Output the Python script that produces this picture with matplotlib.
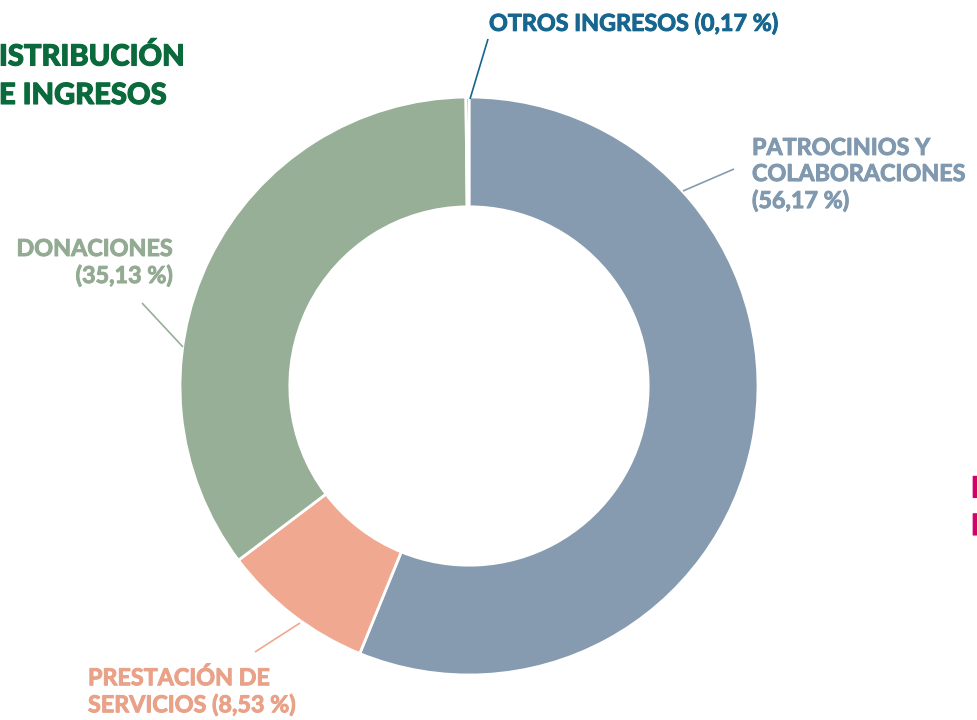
import matplotlib.pyplot as plt
import matplotlib.patheffects as pe

# ============================================
# Data
# ============================================
categories = ['PATROCINIOS Y\nCOLABORACIONES\n(56,17 %)',
              'PRESTACIÓN DE\nSERVICIOS (8,53 %)',
              'DONACIONES\n(35,13 %)',
              'OTROS INGRESOS (0,17 %)']
shares = [56.17, 8.53, 35.13, 0.17]
colors = ['#869bb0', '#f0a891', '#98af97', '#16648f']
text_colors = ['#8199af', '#e9a288', '#93ab93', '#17668f']

# ============================================
# Figure in pixel coordinates (y up)
# ============================================
H = 720
fig = plt.figure(figsize=(9.77, 7.2), dpi=100)
ax = fig.add_axes([0, 0, 1, 1])

cx, cy, R = 469, H - 386, 289
ax.pie(shares, colors=colors, startangle=90, counterclock=False,
       center=(cx, cy), radius=R, frame=True,
       wedgeprops=dict(width=R * 0.38, edgecolor='white', linewidth=2))
ax.set_xlim(0, 977)
ax.set_ylim(0, H)
ax.set_aspect('equal')
ax.axis('off')

# leader lines (image coords: start, end)
leaders = [((683, 191), (734, 169)),
           ((300, 623), (255, 652)),
           ((183, 347), (142, 303)),
           ((470, 99), (488, 39))]
for (p0, p1), c in zip(leaders, colors):
    ax.plot([p0[0], p1[0]], [H - p0[1], H - p1[1]], color=c, lw=1.2,
            solid_capstyle='butt')

# labels (thin stroke of the same colour to get the heavier look)
lab_font = dict(family='Lato', weight='bold', fontsize=16.8, linespacing=1.3)
positions = [(752, 175, 'left'), (88, 692, 'left'), (173, 263, 'right'), (489, 24, 'left')]
for lab, tc, (x, y, ha) in zip(categories, text_colors, positions):
    t = ax.text(x, H - y, lab, color=tc, ha=ha, va='center', multialignment=ha, **lab_font)
    t.set_path_effects([pe.withStroke(linewidth=0.7, foreground=tc)])

# titles, cropped at the figure edges as in the source page
title_font = dict(family='Lato', weight='black', fontsize=21)
for txt, y, c, x in [('ISTRIBUCIÓN', 57, '#0a6a3b', -1), ('E INGRESOS', 96, '#0a6a3b', -1),
                     ('DISTRIBUCIÓN', 489, '#d1006c', 971), ('DE GASTOS', 527, '#d1006c', 971)]:
    t = ax.text(x, H - y, txt, color=c, ha='left', va='center', **title_font)
    t.set_path_effects([pe.withStroke(linewidth=0.8, foreground=c)])

fig.savefig('out.png', dpi=100)
